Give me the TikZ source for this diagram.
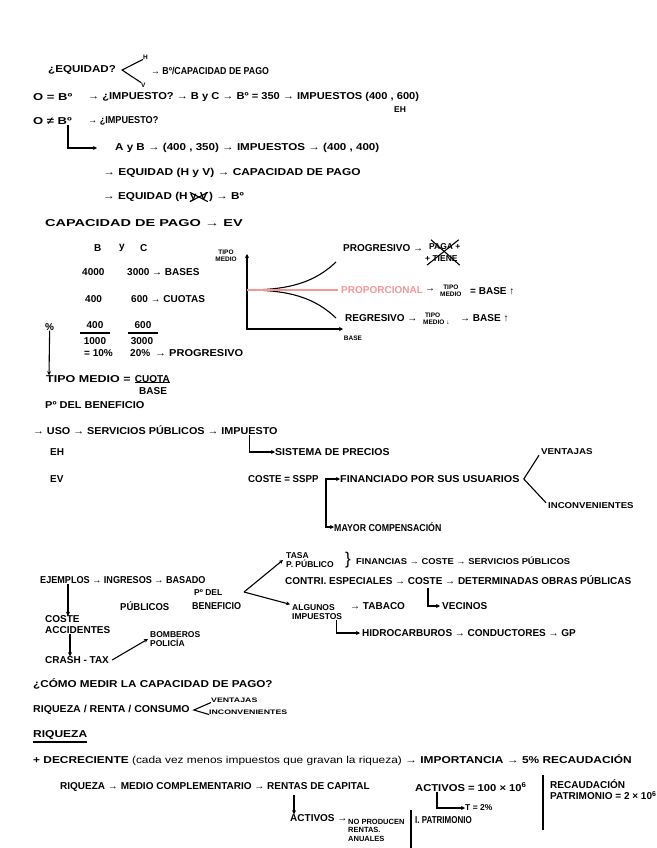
\documentclass[tikz,border=0pt]{standalone}
\usepackage{fontspec}
\setmainfont{Liberation Sans}
\usepackage{graphicx}
\usepackage{tikz}
\usetikzlibrary{arrows.meta}
\newcommand{\hand}{\fontsize{10}{11}\selectfont\bfseries}
\newcommand{\handmid}{\fontsize{8.5}{9}\selectfont\bfseries}
\newcommand{\handsmall}{\fontsize{6.5}{6.5}\selectfont\bfseries}
\newcommand{\sx}[2]{\scalebox{#1}[1]{#2}}
\definecolor{propred}{RGB}{246,150,150}
\tikzset{
  hw/.style={anchor=west, inner sep=0pt, font=\hand},
  hwmid/.style={hw, font=\handmid, align=left},
  hwsmall/.style={hw, font=\handsmall, align=center},
  pen/.style={line width=1.1pt},
  >={Stealth[length=4pt,width=4pt]}
}

\begin{document}
\begin{tikzpicture}[x=1pt, y=-1pt]
    \fill[white] (0,0) rectangle (656,848);
    \useasboundingbox (0,0) rectangle (656,848);

    % Equidad
    \node[hw] (equidad) at (48,70) {\sx{1.16}{¿EQUIDAD?}};
    \node[hwsmall] (hor) at (143,57) {H};
    \node[hwsmall] (ver) at (141,85) {V};
    \draw[pen] (hor.south west) -- ([xshift=6pt]equidad.east) -- (ver.north west);
    \node[hw] (bcap) at (151,71) {\sx{0.88}{→ Bº/CAPACIDAD DE PAGO}};

    \node[hw] (oeq) at (33,97) {\sx{1.3}{O = Bº}};
    \node[hw] (imp1) at (88,97) {\sx{1.11}{→ ¿IMPUESTO? → B y C → Bº = 350 → IMPUESTOS (400 , 600)}};
    \node[hwmid] (eh1) at (394,110) {EH};
    \node[hw] (oneq) at (33,121) {\sx{1.3}{O ≠ Bº}};
    \node[hw] (imp2) at (88,121) {\sx{0.91}{→ ¿IMPUESTO?}};
    \node[hw] (ayb) at (115,148) {\sx{1.16}{A y B → (400 , 350) → IMPUESTOS → (400 , 400)}};
    \draw[pen, ->] ([xshift=-4pt]oneq.south east) |- ([xshift=-18pt]ayb.west);
    \node[hw] (eqcap) at (103,173) {\sx{1.19}{→ EQUIDAD (H y V) → CAPACIDAD DE PAGO}};
    \node[hw] (eqb) at (103,197) {\sx{1.17}{→ EQUIDAD (H}};
    \node[hw] (hyv) at ([xshift=2pt]eqb.east) {\sx{1.17}{y V}};
    \node[hw] (eqbo) at ([xshift=1pt]hyv.east) {\sx{1.17}{) → Bº}};
    \draw[pen] (hyv.north west) -- (hyv.south east);
    \draw[pen] (hyv.south west) -- (hyv.north east);
    \node[hw] (capev) at (45,223) {\sx{1.45}{CAPACIDAD DE PAGO → EV}};

    % Ejemplo de bases y cuotas
    \node[hw] (colb) at (94,248) {B};
    \node[hw] (coly) at (119,248) {y};
    \node[hw] (colc) at (140,248) {C};
    \node[hw] (base1) at (82,272) {4000};
    \node[hw] (bases) at (127,272) {3000 → BASES};
    \node[hw] (cuota1) at (85,299) {400};
    \node[hw] (cuotas) at (131,299) {600 → CUOTAS};
    \node[hw] (pct) at (45,327) {\%};
    \node[hw, anchor=center] (num1) at (95,325) {400};
    \node[hw, anchor=center] (den1) at (95,341) {1000};
    \draw[pen] (80,333) -- (110,333);
    \node[hw, anchor=center] (num2) at (143,325) {600};
    \node[hw, anchor=center] (den2) at (142,341) {3000};
    \draw[pen] (128,333) -- (158,333);
    \node[hw] (res1) at (84,353) {= 10\%};
    \node[hw] (res2) at (130,353) {20\%};
    \node[hw] (progr) at (155,353) {\sx{1.1}{→ PROGRESIVO}};
    \node[hw] (tipo) at (46,379) {\sx{1.25}{TIPO MEDIO =}};
    \node[hw] (cuota) at ([xshift=4pt]tipo.east) {CUOTA};
    \draw[pen] (cuota.south west) -- (cuota.south east);
    \node[hw] (base) at (139,391) {BASE};
    \draw[pen, ->] (pct.south) -- ([xshift=3pt]tipo.north west);

    % Tipo medio frente a base
    \node[hwsmall, anchor=center] (tipoaxis) at (226,256) {TIPO\\MEDIO};
    \coordinate (ytop) at (247,254);
    \coordinate (orig) at (247,329);
    \coordinate (xend) at (343,329);
    \draw[pen, <->] (ytop) -- (orig) -- (xend);
    \node[hwsmall, anchor=center] (baseaxis) at (353,338) {BASE};
    \coordinate (start) at (247,290);
    \draw[pen] (start) .. controls (290,290) and (315,282) .. (336,262);
    \draw[pen] (start) .. controls (290,290) and (315,298) .. (336,318);
    \draw[propred, line width=1.6pt] (start) -- (338,290);

    \node[hw] (prog) at (343,248) {PROGRESIVO →};
    \node[hwmid] (paga) at (429,247) {PAGA +};
    \node[hwmid] (tiene) at (425,259) {+ TIENE};
    \draw[pen] ([shift={(2,-4)}]paga.north west) -- ([shift={(2,3)}]tiene.south east);
    \draw[pen] ([shift={(2,3)}]tiene.south west) -- ([shift={(-2,-4)}]paga.north east);
    \node[hw, text=propred] (prop) at (341,290) {PROPORCIONAL};
    \node[hw] (proparr) at (425,290) {→};
    \node[hwsmall] (tm1) at (440,291) {TIPO\\MEDIO};
    \node[hw] (tm1base) at (470,291) {= BASE ↑};
    \node[hw] (reg) at (345,318) {REGRESIVO →};
    \node[hwsmall, align=left] (tm2) at (423,319) {\ TIPO\\MEDIO ↓};
    \node[hw] (tm2base) at (460,318) {→ BASE ↑};

    % Principio del beneficio
    \node[hw] (benef) at (45,405) {\sx{1.1}{Pº DEL BENEFICIO}};
    \node[hw] (uso) at (33,430) {\sx{1.08}{→ USO → SERVICIOS PÚBLICOS → IMPUESTO}};
    \node[hw] (sisprec) at (275,452) {\sx{1.05}{SISTEMA DE PRECIOS}};
    \draw[pen, ->] ([xshift=-28pt]uso.south east) |- (sisprec.west);
    \node[hw] (eh2) at (50,452) {EH};
    \node[hw] (ev2) at (50,479) {EV};
    \node[hw] (coste) at (248,479) {\sx{0.97}{COSTE = SSPP}};
    \node[hw] (financ) at (340,479) {\sx{1.08}{FINANCIADO POR SUS USUARIOS}};
    \node[hw] (mayor) at (334,527) {\sx{0.88}{MAYOR COMPENSACIÓN}};
    \coordinate (split) at (326,486);
    \draw[pen, ->] (split) |- (financ.west);
    \draw[pen, ->] (split) |- (mayor.west);
    \node[hwmid] (vent1) at (541,452) {\sx{1.15}{VENTAJAS}};
    \node[hwmid] (inconv1) at (548,506) {\sx{1.13}{INCONVENIENTES}};
    \draw[pen] ([xshift=-2pt]vent1.south west) -- ([xshift=4pt]financ.east) -- ([xshift=-2pt]inconv1.north west);

    % Ejemplos
    \node[hw] (ejem) at (40,580) {\sx{0.91}{EJEMPLOS → INGRESOS → BASADO}};
    \node[hw] (publicos) at (120,606) {\sx{0.95}{PÚBLICOS}};
    \node[hwmid] (pdel) at (194,593) {Pº DEL};
    \node[hw] (benef2) at (192,606) {\sx{0.9}{BENEFICIO}};
    \node[hw, align=left] (coste2) at (45,625) {COSTE\\ACCIDENTES};
    \node[hw] (crash) at (45,660) {CRASH - TAX};
    \node[hwmid] (bomb) at (150,639) {BOMBEROS\\POLICÍA};
    \draw[pen, ->] ([xshift=28pt]ejem.south west) -- ([xshift=23pt]coste2.north west);
    \draw[pen, ->] ([xshift=25pt]coste2.south west) -- ([xshift=25pt]crash.north west);
    \draw[pen, ->] ([xshift=3pt]crash.east) -- ([xshift=-2pt]bomb.west);
    \node[hwmid] (tasa) at (286,560) {TASA\\P. PÚBLICO};
    \node[hw, font=\fontsize{17}{17}\selectfont] (brace) at (345,560) {\}};
    \node[hwmid] (financias) at (356,561) {\sx{1.1}{FINANCIAS → COSTE → SERVICIOS PÚBLICOS}};
    \node[hw] (contri) at (285,580) {CONTRI. ESPECIALES → COSTE → DETERMINADAS OBRAS PÚBLICAS};
    \node[hwmid] (algunos) at (292,612) {ALGUNOS\\IMPUESTOS};
    \node[hw] (tabaco) at (350,606) {→ TABACO};
    \node[hw] (vecinos) at (442,606) {VECINOS};
    \node[hw] (hidro) at (362,633) {HIDROCARBUROS → CONDUCTORES → GP};
    \coordinate (fork) at (244,592);
    \coordinate (costeb) at (428,588);
    \draw[pen, ->] (fork) -- ([xshift=-3pt]tasa.west);
    \draw[pen, ->] (fork) -- ([xshift=-2pt]algunos.north west);
    \draw[pen, ->] (costeb) |- ([xshift=-2pt]vecinos.west);
    \draw[pen, ->] ([xshift=-6pt]algunos.south east) |- ([xshift=-2pt]hidro.west);

    % Como medir la capacidad de pago
    \node[hw] (medir) at (33,684) {\sx{1.17}{¿CÓMO MEDIR LA CAPACIDAD DE PAGO?}};
    \node[hw] (rrc) at (33,710) {\sx{1.06}{RIQUEZA / RENTA / CONSUMO}};
    \node[hwsmall] (vent2) at (211,700) {\sx{1.35}{VENTAJAS}};
    \node[hwsmall] (inconv2) at (209,712) {\sx{1.35}{INCONVENIENTES}};
    \draw[pen] (vent2.south west) -- ([xshift=4pt]rrc.east) -- (inconv2.south west);
    \node[hw] (riqueza) at (33,735) {\sx{1.2}{RIQUEZA}};
    \draw[line width=1.8pt] ([yshift=-2pt]riqueza.south west) -- ([yshift=-2pt]riqueza.south east);

    % Riqueza
    \node[hw] (decrec) at (33,760) {\sx{1.19}{+ DECRECIENTE {\mdseries (cada vez menos impuestos que gravan la riqueza)} → IMPORTANCIA → 5\% RECAUDACIÓN}};
    \node[hw] (riq2) at (60,787) {RIQUEZA → MEDIO COMPLEMENTARIO → RENTAS DE CAPITAL};
    \node[hw] (activos) at (415,787) {\sx{1.12}{ACTIVOS = 100 × 10\textsuperscript{6}}};
    \node[hw, align=left] (recaud) at (550,790) {RECAUDACIÓN\\PATRIMONIO = 2 × 10\textsuperscript{6}};
    \draw[pen] (543,775) -- (543,830);
    \node[hwmid] (tipo2) at (465,808) {T = 2\%};
    \draw[pen, ->] ([xshift=22pt]activos.south west) |- (tipo2.west);
    \node[hw] (activos2) at (290,818) {ACTIVOS →};
    \node[hw, font=\fontsize{7.5}{8.5}\selectfont\bfseries, align=left] (noprod) at (348,830) {NO PRODUCEN\\RENTAS.\\ANUALES};
    \draw[pen, ->] (294,795) -- ([xshift=4pt]activos2.north west);
    \draw[pen] (411,810) -- (411,848);
    \node[hw] (ipatr) at (415,820) {\sx{0.8}{I. PATRIMONIO}};
\end{tikzpicture}
\end{document}
